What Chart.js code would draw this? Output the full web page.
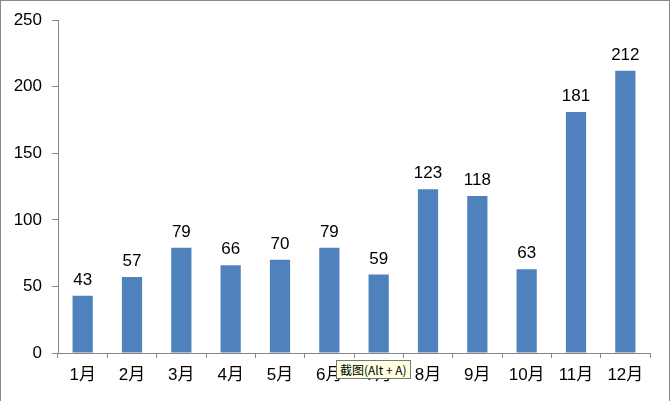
<!DOCTYPE html>
<html>
<head>
<meta charset="utf-8">
<script src="https://cdn.jsdelivr.net/npm/chart.js@4/dist/chart.umd.min.js"></script>
<style>
  html, body { margin: 0; padding: 0; background: #fff; }
  #wrap { position: relative; width: 671px; height: 401px; }
  #frame { position: absolute; left: 0; top: 0; width: 670px; height: 401px;
           border-left: 1px solid #888; border-top: 1px solid #888; border-right: 1px solid #888;
           box-sizing: border-box; pointer-events: none; }
  #tip { position: absolute; left: 336px; top: 360px; padding: 1px 3px;
         background: #ffffe1; border: 1px solid #767676;
         font: 12px "Noto Sans CJK SC", sans-serif; line-height: 15px; color: #000; }
</style>
</head>
<body>
<div id="wrap">
  <canvas id="monthChart" width="671" height="401"></canvas>
  <div id="frame"></div>
  <div id="tip">截图(Alt + A)</div>
</div>
<script>
// monthly values
const months = ['1月', '2月', '3月', '4月', '5月', '6月', '7月', '8月', '9月', '10月', '11月', '12月'];
const monthValues = [43, 57, 79, 66, 70, 79, 59, 123, 118, 63, 181, 212];
const yTicks = [0, 50, 100, 150, 200, 250];

const fontFamily = '"Liberation Sans", "Noto Sans CJK SC", sans-serif';
const fontSize = 17;

// draw the number above each bar
const barValues = {
  id: 'barValues',
  afterDatasetsDraw(chart) {
    const ctx = chart.ctx;
    const meta = chart.getDatasetMeta(0);
    ctx.save();
    ctx.font = fontSize + 'px ' + fontFamily;
    ctx.fillStyle = '#000';
    ctx.textAlign = 'center';
    ctx.textBaseline = 'bottom';
    meta.data.forEach((bar, i) => {
      ctx.fillText(monthValues[i], bar.x, bar.y - 7);
    });
    ctx.restore();
  }
};

new Chart('monthChart', {
  type: 'bar',
  data: {
    labels: months,
    datasets: [{
      data: monthValues,
      backgroundColor: '#4f81bd',
      barPercentage: 0.41,
      categoryPercentage: 1
    }]
  },
  options: {
    responsive: false,
    animation: false,
    layout: { padding: { top: 20, right: 21, left: 0, bottom: 0 } },
    plugins: { legend: { display: false }, tooltip: { enabled: false } },
    scales: {
      x: {
        offset: true,
        grid: { offset: true, drawOnChartArea: false, color: '#868686', tickLength: 5 },
        border: { color: '#868686' },
        ticks: { color: '#000', font: { family: fontFamily, size: fontSize }, padding: 7, maxRotation: 0 },
        afterFit(scale) { scale.height = 48; }
      },
      y: {
        min: 0,
        max: 250,
        afterBuildTicks(scale) { scale.ticks = yTicks.map(v => ({ value: v })); },
        grid: { drawOnChartArea: false, color: '#868686', tickLength: 6 },
        border: { color: '#868686' },
        ticks: { color: '#000', font: { family: fontFamily, size: fontSize }, padding: 10 },
        afterFit(scale) { scale.width = 58; }
      }
    }
  },
  plugins: [barValues]
});
</script>
</body>
</html>
